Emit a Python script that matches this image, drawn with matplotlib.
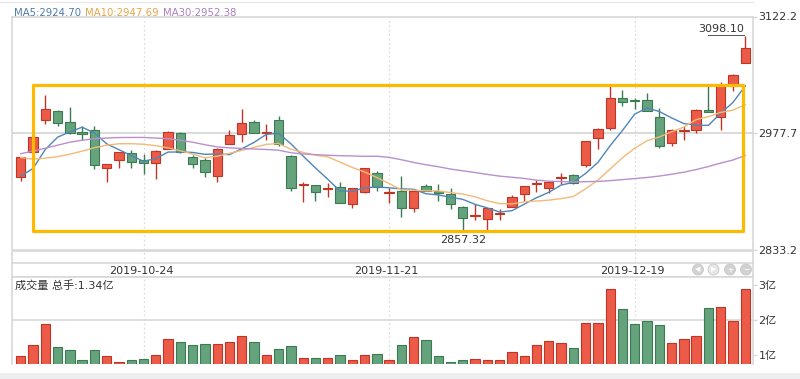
#========================================#
# K-line chart (daily candles + MA + volume)
#========================================#
import numpy as np
import pandas as pd
import matplotlib
matplotlib.use("Agg")
import matplotlib.pyplot as plt
from matplotlib.patches import Rectangle, Circle
from matplotlib.transforms import IdentityTransform

plt.rcParams['font.family'] = ['DejaVu Sans', 'Noto Sans CJK SC']

# Data
#========================================#
open_ = [2923.0, 2954.6, 2993.8, 3004.9, 2992.2, 2979.8, 2981.4, 2934.1, 2945.2, 2953.4,
         2944.4, 2941.0, 2958.8, 2978.6, 2948.9, 2944.4, 2925.0, 2965.0, 2977.3, 2991.3,
         2978.3, 2993.8, 2949.7, 2914.1, 2913.5, 2909.1, 2911.4, 2890.0, 2904.5, 2927.9,
         2903.8, 2906.1, 2885.5, 2912.3, 2906.1, 2902.0, 2885.9, 2875.0, 2871.1, 2877.5,
         2886.7, 2902.4, 2915.4, 2909.4, 2922.8, 2925.8, 2937.8, 2971.2, 2984.7, 3020.9,
         3017.5, 3019.3, 2997.8, 2965.7, 2981.0, 2981.4, 3007.0, 2997.8, 3035.8, 3065.0]
high = [2948.4, 2975.2, 3025.5, 3006.0, 3010.2, 2986.4, 2986.7, 2940.0, 2954.5, 2956.7,
        2952.6, 2956.7, 2980.2, 2979.5, 2950.5, 2946.8, 2959.6, 2982.3, 3007.3, 2993.8,
        2988.8, 2998.7, 2950.5, 2917.6, 2913.9, 2915.6, 2917.6, 2909.8, 2934.8, 2930.8,
        2909.4, 2925.0, 2906.7, 2914.7, 2914.7, 2909.4, 2887.6, 2889.7, 2885.1, 2883.8,
        2901.1, 2912.9, 2919.7, 2918.4, 2928.7, 2927.1, 2968.5, 2983.9, 3036.1, 3031.7,
        3021.8, 3027.5, 3009.4, 2982.6, 2986.4, 3007.3, 3037.0, 3041.1, 3051.4, 3098.10]
low = [2918.8, 2953.0, 2989.7, 2986.7, 2976.5, 2969.1, 2932.9, 2917.6, 2934.1, 2934.1,
       2927.1, 2920.5, 2957.9, 2953.5, 2934.1, 2923.0, 2917.6, 2964.7, 2967.0, 2977.7,
       2969.1, 2962.0, 2906.5, 2892.1, 2894.1, 2899.0, 2891.2, 2884.7, 2903.6, 2906.5,
       2891.6, 2873.6, 2880.1, 2906.0, 2893.7, 2883.5, 2858.5, 2870.3, 2857.32, 2870.3,
       2886.3, 2894.1, 2905.2, 2903.6, 2914.7, 2914.7, 2936.1, 2957.9, 2982.3, 3011.1,
       3008.2, 3004.9, 2959.6, 2961.7, 2969.9, 2977.7, 3004.3, 2982.3, 3029.9, 3064.8]
close = [2947.7, 2973.1, 3007.3, 2990.4, 2978.6, 2976.5, 2938.2, 2939.4, 2953.9, 2942.3,
         2941.0, 2955.5, 2979.3, 2954.6, 2939.4, 2929.2, 2957.9, 2975.2, 2990.9, 2978.6,
         2978.9, 2965.0, 2909.8, 2914.6, 2905.2, 2909.6, 2891.6, 2909.4, 2934.1, 2911.4,
         2904.2, 2885.5, 2906.5, 2906.5, 2904.0, 2890.0, 2872.4, 2875.4, 2884.7, 2877.9,
         2899.0, 2912.3, 2915.8, 2917.6, 2923.2, 2915.6, 2967.8, 2983.5, 3021.8, 3016.9,
         3017.1, 3005.3, 2962.0, 2982.3, 2981.6, 3007.0, 3004.5, 3037.0, 3049.3, 3083.5]
# volume, unit: 亿
volume = [0.98, 1.29, 1.89, 1.24, 1.15, 0.85, 1.15, 0.96, 0.79, 0.85,
          0.88, 1.00, 1.46, 1.36, 1.29, 1.31, 1.31, 1.38, 1.54, 1.36,
          1.00, 1.16, 1.27, 0.92, 0.92, 0.92, 1.00, 0.87, 1.01, 1.03,
          0.86, 1.29, 1.51, 1.42, 0.98, 0.80, 0.85, 0.89, 0.85, 0.86,
          1.08, 0.98, 1.29, 1.41, 1.35, 1.19, 1.92, 1.92, 2.89, 2.31,
          1.89, 1.96, 1.85, 1.33, 1.47, 1.55, 2.34, 2.36, 1.98, 2.89]

# moving averages at the first candles (need history before the window)
ma5_head = [2924.70, 2934.1, 2957.6, 2972.8]
ma10_head = [2947.69, 2945.6, 2946.8, 2948.7, 2951.8, 2955.5, 2959.8, 2962.9, 2964.7]
ma30_head = [2952.38, 2955.5, 2959.2, 2962.9, 2966.6, 2969.1, 2970.9, 2971.8, 2972.4, 2972.5,
             2972.5, 2971.8, 2970.9, 2969.1, 2966.6, 2963.5, 2960.8, 2959.6, 2958.8, 2958.2,
             2957.6, 2956.7, 2953.6, 2952.0, 2951.2, 2950.5, 2949.9, 2949.6, 2949.1]

date_idx = [10, 30, 50]
date_labels = ["2019-10-24", "2019-11-21", "2019-12-19"]
price_ticks = [2833.2, 2977.7, 3122.2]
vol_ticks = [1, 2, 3]
vol_labels = ["1亿", "2亿", "3亿"]
box_top, box_bottom = 3037.6, 2857.32

# Moving averages
#========================================#
close_s = pd.Series(close)
ma5 = close_s.rolling(5).mean()
ma5.iloc[:len(ma5_head)] = ma5_head
ma10 = close_s.rolling(10).mean()
ma10.iloc[:len(ma10_head)] = ma10_head
ma30 = close_s.rolling(30).mean()
ma30.iloc[:len(ma30_head)] = ma30_head

# Layout (pixel based)
#========================================#
W, H = 800, 379
fig = plt.figure(figsize=(W / 100, H / 100), dpi=100)

def frac(left, top, right, bottom):
    return [left / W, 1 - bottom / H, (right - left) / W, (bottom - top) / H]

ax = fig.add_axes(frac(12, 16.5, 753, 263))
ax_d = fig.add_axes(frac(12, 263, 753, 277))
ax_v = fig.add_axes(frac(12, 277, 753, 364))

n = len(close)
idx = np.arange(n)
xlim = (-0.71, 59.63)
RED, RED_E = '#EC5B47', '#BF3526'
GRN, GRN_E = '#64A37B', '#3C7A54'
GRID = '#D8D8D8'

# Candles
#========================================#
up = [c >= o for o, c in zip(open_, close)]
for i in idx:
    col, ecol = (RED, RED_E) if up[i] else (GRN, GRN_E)
    ax.vlines(i, low[i], high[i], color=ecol, lw=1.0, zorder=3)
    h = max(abs(close[i] - open_[i]), 1.2)
    ax.bar(i, h, bottom=min(open_[i], close[i]), width=0.76,
           color=col, edgecolor=ecol, lw=0.8, zorder=4)

ax.plot(idx, ma5, color='#4F86B8', lw=1.0, zorder=5)
ax.plot(idx, ma10, color='#F2BA78', lw=1.0, zorder=5)
ax.plot(idx, ma30, color='#B98FCF', lw=1.0, zorder=5)

# highlight box
ax.add_patch(Rectangle((1, box_bottom), 57.8, box_top - box_bottom, fill=False,
                       edgecolor='#FFB900', lw=2.3, joinstyle='round', zorder=6))

# max / min labels
imax = int(np.argmax(high))
imin = int(np.argmin(low))
ax.annotate("%.2f" % high[imax], xy=(imax, high[imax]), xytext=(-1, 1.5),
            textcoords='offset points', ha='right', va='bottom', fontsize=8, color='#333333')
ax.plot([imax - 3.05, imax - 0.1], [high[imax] + 1.0] * 2, color='#555555', lw=0.7)
ax.annotate("%.2f" % low[imin], xy=(imin, low[imin]), xytext=(-1, -3),
            textcoords='offset points', ha='right', va='top', fontsize=8, color='#333333')

ax.axhline(2977.7, color=GRID, lw=1.3, zorder=1)
ax.axhline(2833.2, color=GRID, lw=1.8, zorder=1)
for d in date_idx:
    ax.axvline(d, color='#DDDDDD', lw=0.9, ls=(0, (1.5, 2)), zorder=0)
ax.set_xlim(xlim)
ax.set_ylim(2817.1, 3122.2)
ax.set_xticks([])
ax.yaxis.tick_right()
ax.set_yticks(price_ticks)
ax.set_yticklabels(["%.1f" % t for t in price_ticks])
ax.tick_params(axis='y', length=3, width=1, color=GRID, pad=1, labelsize=8, labelcolor='#333333')
for s in ['left', 'right', 'top']:
    ax.spines[s].set_color(GRID)
    ax.spines[s].set_linewidth(1.2)
ax.spines['bottom'].set_visible(False)

# legend text, placed one after another
ma_cols = ['#4A7BB0', '#E9A448', '#AB80C2']
ma_txt = ["MA5:%.2f" % ma5.iloc[0], "MA10:%.2f" % ma10.iloc[0], "MA30:%.2f" % ma30.iloc[0]]
renderer = fig.canvas.get_renderer()
xp = 14
for t, c in zip(ma_txt, ma_cols):
    tx = fig.text(xp / W, 1 - 12.5 / H, t, color=c, fontsize=7.3, va='center', ha='left')
    xp = tx.get_window_extent(renderer).x1 + 4

# Date strip
#========================================#
ax_d.set_xlim(xlim)
ax_d.set_ylim(0, 1)
ax_d.set_xticks([])
ax_d.set_yticks([])
for s in ax_d.spines.values():
    s.set_color(GRID)
    s.set_linewidth(1.2)
for d, lab in zip(date_idx, date_labels):
    ax_d.text(d - 0.2, 0.45, lab, ha='center', va='center', fontsize=8, color='#333333')

# navigation buttons
for k, (bx, g) in enumerate(zip([698, 713.5, 730, 746], ['◀', '▶', '+', '−'])):
    fc = '#E6E6E6' if k == 1 else '#D2D2D2'
    fig.add_artist(Circle((bx, H - 269.5), 5.5, transform=IdentityTransform(),
                          facecolor=fc, edgecolor='#C8C8C8', lw=0.6))
    fig.text(bx / W, (H - 269.5) / H, g, ha='center', va='center', fontsize=5,
             color='white', fontweight='bold')

# Volume
#========================================#
vcol = [RED if u else GRN for u in up]
vecol = [RED_E if u else GRN_E for u in up]
ax_v.bar(idx, volume, width=0.76, color=vcol, edgecolor=vecol, lw=0.8, zorder=3)
ax_v.axhline(2, color=GRID, lw=1.2, zorder=1)
for d in date_idx:
    ax_v.axvline(d, color='#DDDDDD', lw=0.9, ls=(0, (1.5, 2)), zorder=0)
ax_v.set_xlim(xlim)
ax_v.set_ylim(0.743, 3.229)
ax_v.set_xticks([])
ax_v.yaxis.tick_right()
ax_v.set_yticks(vol_ticks)
ax_v.set_yticklabels(vol_labels)
ax_v.tick_params(axis='y', length=3, width=1, color=GRID, pad=1, labelsize=8, labelcolor='#333333')
for s in ['left', 'right', 'top']:
    ax_v.spines[s].set_color(GRID)
    ax_v.spines[s].set_linewidth(1.2)
ax_v.spines['bottom'].set_visible(False)
ax_v.text(0.004, 0.9, "成交量 总手:1.34亿", transform=ax_v.transAxes, ha='left', va='center',
          fontsize=8, color='#333333')

# frame bits
fig.add_artist(plt.Line2D([0, 753 / W], [1 - 2 / H] * 2, color='#E8E8E8', lw=1.0))
fig.add_artist(Rectangle((0, 0), 1, 6 / H, transform=fig.transFigure,
                         facecolor='#ECEEF0', edgecolor='none'))

fig.savefig("out.png", dpi=100)
